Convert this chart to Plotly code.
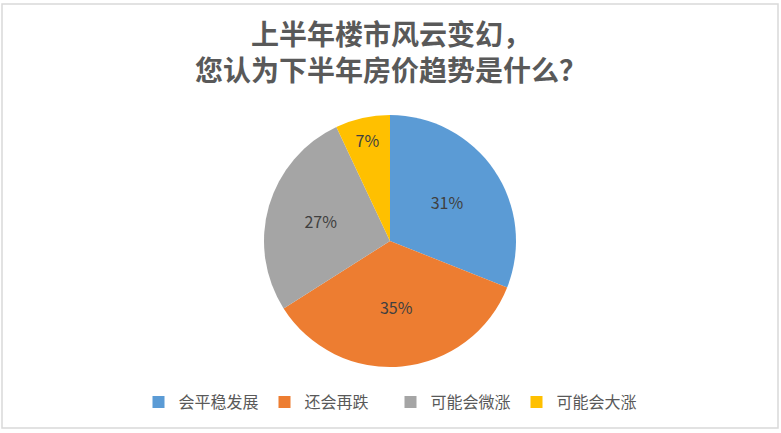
import plotly.graph_objects as go

labels = ["会平稳发展", "还会再跌", "可能会微涨", "可能会大涨"]
values = [31, 35, 27, 7]
colors = ["#5B9BD5", "#ED7D31", "#A5A5A5", "#FFC000"]
title_text = "上半年楼市风云变幻，<br>您认为下半年房价趋势是什么？"

W, H = 781, 433
font = "Noto Sans CJK SC"

fig = go.Figure()
fig.add_trace(go.Pie(
    labels=labels,
    values=values,
    sort=False,
    direction="clockwise",
    rotation=0,
    marker=dict(colors=colors, line=dict(width=0)),
    texttemplate="%{value}%",
    textposition="inside",
    insidetextorientation="horizontal",
    textfont=dict(family=font, size=16, color="#404040"),
    domain=dict(x=[264 / W, 516 / W], y=[(H - 367) / H, (H - 115) / H]),
    hoverinfo="label+percent",
))

# two-line title
fig.add_annotation(
    text="<b>" + title_text + "</b>", x=0.5, y=(H - 51) / H,
    xref="paper", yref="paper", xanchor="center", yanchor="middle",
    showarrow=False, font=dict(family=font, size=28, color="#595959"),
)

# outer frame
fig.add_shape(type="rect", xref="paper", yref="paper",
              x0=2 / W, x1=778 / W, y0=(H - 428) / H, y1=(H - 4) / H,
              line=dict(color="#D9D9D9", width=1.5))

fig.update_layout(
    width=W, height=H,
    margin=dict(l=0, r=0, t=0, b=0),
    paper_bgcolor="white",
    plot_bgcolor="white",
    showlegend=True,
    legend=dict(orientation="h", x=0.5, xanchor="center",
                y=(H - 402) / H, yanchor="middle",
                font=dict(family=font, size=16, color="#595959"),
                itemwidth=30, entrywidth=81, traceorder="normal"),
)

fig.write_html("out.html", config={"displayModeBar": False},
               post_script="document.body.style.margin='0';")
